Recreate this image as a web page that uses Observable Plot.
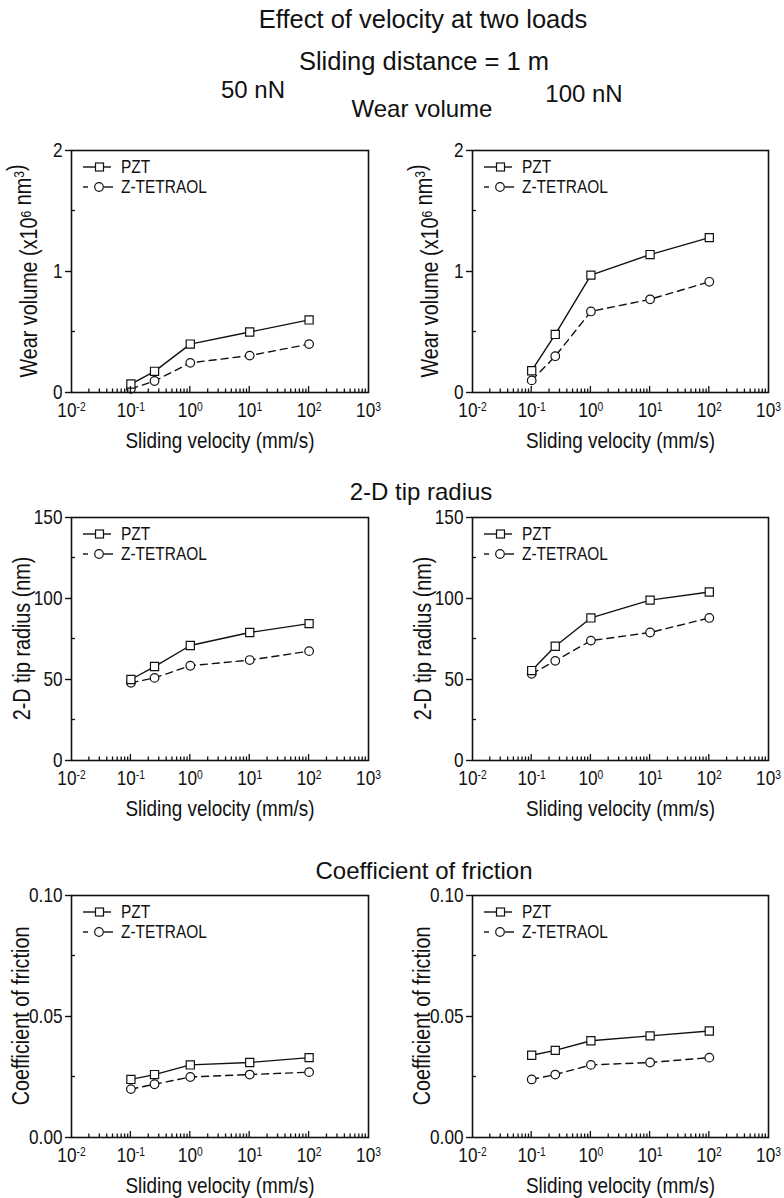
<!DOCTYPE html>
<html><head><meta charset="utf-8">
<script src="https://cdn.jsdelivr.net/npm/d3@7"></script>
<script src="https://cdn.jsdelivr.net/npm/@observablehq/plot@0.6"></script>
<style>
body{margin:0;background:#fff;}
#wrap{position:relative;width:784px;height:1198px;overflow:hidden;background:#fff;}
#wrap > svg{position:absolute;}
</style></head><body><div id="wrap"></div>
<script>
// ---------- data ----------
const velocities = [0.1, 0.25, 1, 10, 100];
const series = ["PZT", "Z-TETRAOL"];
const wear50_PZT  = [0.07, 0.175, 0.40, 0.50, 0.60];
const wear50_ZT   = [0.03, 0.095, 0.245, 0.305, 0.40];
const wear100_PZT = [0.18, 0.48, 0.97, 1.14, 1.28];
const wear100_ZT  = [0.10, 0.30, 0.67, 0.77, 0.915];
const tip50_PZT   = [50, 58, 71, 79, 84.5];
const tip50_ZT    = [48, 51, 58.5, 62, 67.5];
const tip100_PZT  = [55.5, 70.5, 88, 99, 104];
const tip100_ZT   = [53.5, 61.5, 74, 79, 88];
const cof50_PZT   = [0.024, 0.026, 0.030, 0.031, 0.033];
const cof50_ZT    = [0.020, 0.022, 0.025, 0.026, 0.027];
const cof100_PZT  = [0.034, 0.036, 0.040, 0.042, 0.044];
const cof100_ZT   = [0.024, 0.026, 0.030, 0.031, 0.033];
const xDecades = [0.01, 0.1, 1, 10, 100, 1000];
const wearTicks = [0, 1, 2], wearMinor = [0.5, 1.5];
const tipTicks = [0, 50, 100, 150], tipMinor = [25, 75, 125];
const cofTicks = [0, 0.05, 0.10], cofMinor = [0.025, 0.075];
const xLabel = "Sliding velocity (mm/s)";
const titles = {
  main: "Effect of velocity at two loads",
  sub: "Sliding distance = 1 m",
  left: "50 nN", right: "100 nN",
  wear: "Wear volume", tip: "2-D tip radius", cof: "Coefficient of friction"
};

// ---------- style ----------
const INK = "#111";
const FONT = '"Liberation Sans",Arial,Helvetica,sans-serif';
const SQ = 0.86; // horizontal condensing of axis texts
const wrap = d3.select("#wrap");

function condense(sel) {
  sel.each(function() {
    const t = d3.select(this);
    const tr = t.attr("transform") || "";
    t.attr("transform", tr + ` scale(${SQ},1)`);
  });
}

function makePanel(cfg) {
  const W = 392, MT = 20, MB = 62;
  const H = MT + cfg.frameH + MB;
  const ML = cfg.frameLeft - cfg.left;
  const MR = W - ML - cfg.frameW;
  const rows = velocities.flatMap((v, i) => [
    {v, val: cfg.pzt[i], s: series[0]},
    {v, val: cfg.zt[i], s: series[1]}
  ]);
  const pztRows = rows.filter(d => d.s === series[0]);
  const ztRows = rows.filter(d => d.s === series[1]);
  const plot = Plot.plot({
    width: W, height: H, marginTop: MT, marginBottom: MB, marginLeft: ML, marginRight: MR,
    style: {background: "transparent", fontFamily: FONT, fontSize: "20px", color: INK, overflow: "visible"},
    x: {type: "log", domain: [0.01, 1000]},
    y: {domain: cfg.yDomain},
    marks: [
      Plot.axisX({ticks: xDecades, tickSize: 0, tickPadding: 10,
        tickFormat: d => String(Math.round(Math.log10(d))), label: null, fontSize: 20}),
      Plot.axisY({ticks: cfg.yTicks, tickSize: 6, tickPadding: 3, tickFormat: cfg.fmt,
        label: null, strokeWidth: 1.4, fontSize: 20}),
      Plot.text([xLabel], {frameAnchor: "bottom", dy: 48, lineAnchor: "middle", fontSize: 22}),
      Plot.line(ztRows, {x: "v", y: "val", stroke: INK, strokeWidth: 1.4, strokeDasharray: "7,5"}),
      Plot.line(pztRows, {x: "v", y: "val", stroke: INK, strokeWidth: 1.4}),
      Plot.dot(ztRows, {x: "v", y: "val", symbol: "circle", r: 4.3, fill: "white", stroke: INK, strokeWidth: 1.2}),
      Plot.dot(pztRows, {x: "v", y: "val", symbol: "square", r: 4.6, fill: "white", stroke: INK, strokeWidth: 1.2}),
      Plot.frame({stroke: INK, strokeWidth: 1.6})
    ]
  });
  const svg = d3.select(plot);
  svg.style("left", cfg.left + "px").style("top", (cfg.frameTop - MT) + "px");
  const sx = plot.scale("x"), sy = plot.scale("y");
  const fx0 = sx.apply(0.01), fy0 = sy.apply(cfg.yDomain[0]), fy1 = sy.apply(cfg.yDomain[1]);

  // x tick labels as 10^n with real superscripts
  svg.selectAll('g[aria-label="x-axis tick label"] text').each(function() {
    const t = d3.select(this);
    const e = t.text().replace("\u2212", "-");
    t.text("");
    t.append("tspan").text("10");
    t.append("tspan").attr("dy", "-0.45em").attr("font-size", "12px").text(e);
  });
  condense(svg.selectAll("text"));

  const g = svg.append("g").attr("stroke", INK).attr("stroke-width", 1.3);
  for (let e = -2; e <= 2; e++) for (let k = 2; k <= 9; k++) {
    const x = sx.apply(k * 10 ** e);
    g.append("line").attr("x1", x).attr("x2", x).attr("y1", fy0).attr("y2", fy0 - 3.5);
  }
  for (const v of xDecades.slice(1, -1)) {
    const x = sx.apply(v);
    g.append("line").attr("x1", x).attr("x2", x).attr("y1", fy0).attr("y2", fy0 - 6);
  }
  for (const m of cfg.yMinor) {
    const y = sy.apply(m);
    g.append("line").attr("x1", fx0).attr("x2", fx0 + 4).attr("y1", y).attr("y2", y);
  }

  // legend
  const lg = svg.append("g").attr("font-family", FONT).attr("font-size", 18)
    .attr("fill", INK).attr("text-anchor", "start");
  const r1 = fy1 + 17, r2 = fy1 + 37;
  lg.append("line").attr("x1", fx0 + 12).attr("x2", fx0 + 40).attr("y1", r1).attr("y2", r1)
    .attr("stroke", INK).attr("stroke-width", 1.4);
  lg.append("rect").attr("x", fx0 + 24.5).attr("y", r1 - 4).attr("width", 8).attr("height", 8)
    .attr("fill", "white").attr("stroke", INK).attr("stroke-width", 1.2);
  lg.append("text").attr("transform", `translate(${fx0 + 50},${r1}) scale(${SQ},1)`)
    .attr("dy", "0.35em").text(series[0]);
  lg.append("line").attr("x1", fx0 + 12).attr("x2", fx0 + 17).attr("y1", r2).attr("y2", r2)
    .attr("stroke", INK).attr("stroke-width", 1.4);
  lg.append("line").attr("x1", fx0 + 33).attr("x2", fx0 + 42).attr("y1", r2).attr("y2", r2)
    .attr("stroke", INK).attr("stroke-width", 1.4);
  lg.append("circle").attr("cx", fx0 + 28).attr("cy", r2).attr("r", 4.3)
    .attr("fill", "white").attr("stroke", INK).attr("stroke-width", 1.2);
  lg.append("text").attr("transform", `translate(${fx0 + 50},${r2}) scale(${SQ},1)`)
    .attr("dy", "0.35em").text(series[1]);

  // y label
  const yl = svg.append("text")
    .attr("transform", `translate(${fx0 - cfg.ylabelOffset},${(fy0 + fy1) / 2}) rotate(-90) scale(${SQ},1)`)
    .attr("text-anchor", "middle").attr("dy", "0.35em")
    .attr("font-family", FONT).attr("font-size", 23).attr("fill", INK);
  for (const p of cfg.ylabel) {
    if (p.sup) {
      yl.append("tspan").attr("dy", "-0.45em").attr("font-size", 14).text(p.t);
      yl.append("tspan").attr("dy", "0.45em").text("");
    } else yl.append("tspan").text(p.t);
  }
  wrap.node().appendChild(plot);
}

const wearLabel = [{t: "Wear volume (x10"}, {t: "6", sup: true}, {t: " nm"}, {t: "3", sup: true}, {t: ")"}];
const tipLabel = [{t: "2-D tip radius (nm)"}];
const cofLabel = [{t: "Coefficient of friction"}];
const fmtInt = d => String(d);
const fmt2 = d => d.toFixed(2);

const rowsCfg = [
  {frameTop: 150, frameH: 242, yDomain: [0, 2], yTicks: wearTicks, yMinor: wearMinor, fmt: fmtInt,
   ylabel: wearLabel, off: 42, data: [[wear50_PZT, wear50_ZT], [wear100_PZT, wear100_ZT]]},
  {frameTop: 517, frameH: 243, yDomain: [0, 150], yTicks: tipTicks, yMinor: tipMinor, fmt: fmtInt,
   ylabel: tipLabel, off: 49, data: [[tip50_PZT, tip50_ZT], [tip100_PZT, tip100_ZT]]},
  {frameTop: 895, frameH: 242, yDomain: [0, 0.10], yTicks: cofTicks, yMinor: cofMinor, fmt: fmt2,
   ylabel: cofLabel, off: 50, data: [[cof50_PZT, cof50_ZT], [cof100_PZT, cof100_ZT]]}
];
for (const r of rowsCfg) {
  [[0, 71, 297], [392, 472, 296]].forEach(([left, frameLeft, frameW], j) => {
    makePanel({left, frameLeft, frameW, frameTop: r.frameTop, frameH: r.frameH, yDomain: r.yDomain,
      yTicks: r.yTicks, yMinor: r.yMinor, fmt: r.fmt, pzt: r.data[j][0], zt: r.data[j][1],
      ylabel: r.ylabel, ylabelOffset: r.off});
  });
}

// ---------- titles overlay ----------
const ov = wrap.append("svg").attr("width", 784).attr("height", 1198)
  .style("left", "0px").style("top", "0px").style("pointer-events", "none")
  .attr("font-family", FONT).attr("fill", INK).attr("text-anchor", "middle");
const T = [
  [titles.main, 423, 28, 25.5],
  [titles.sub, 424, 70, 25.5],
  [titles.left, 253, 98, 24],
  [titles.right, 584, 102, 24],
  [titles.wear, 422, 117, 24],
  [titles.tip, 421, 500, 24],
  [titles.cof, 424, 879, 24]
];
for (const [t, x, y, fs] of T) ov.append("text").attr("x", x).attr("y", y).attr("font-size", fs).text(t);
</script></body></html>
